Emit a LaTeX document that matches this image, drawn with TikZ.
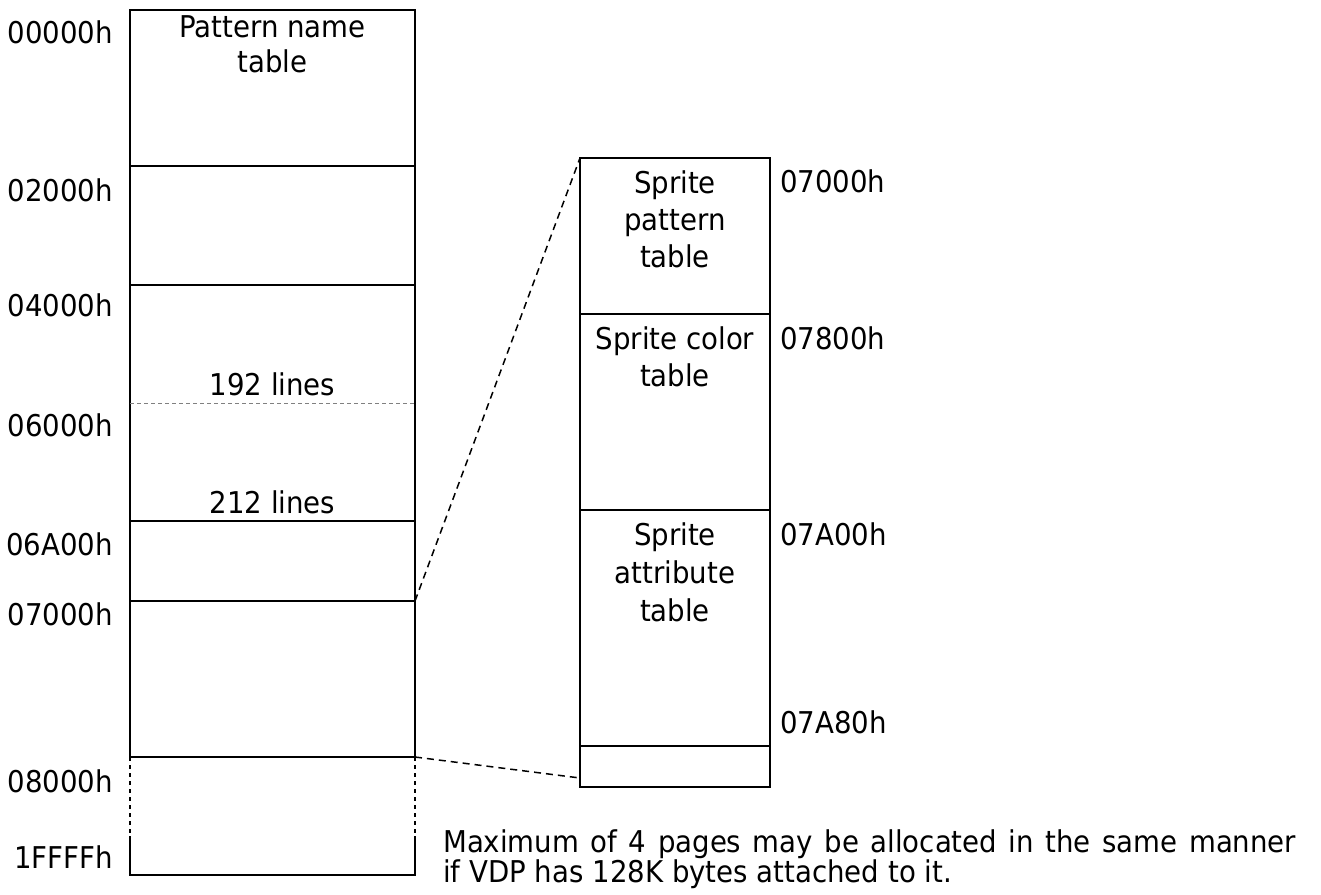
\documentclass[tikz,border=0pt]{standalone}
\usepackage{fontspec}
\setmainfont{DejaVu Sans}[FakeStretch=0.92]
\begin{document}
\begin{tikzpicture}[x=1pt,y=-1pt,
  seg/.style={draw,line width=2pt,inner sep=0pt,outer sep=0pt,minimum width=285pt},
  rseg/.style={draw,line width=2pt,inner sep=0pt,outer sep=0pt,minimum width=190pt},
  addr/.style={font=\fontsize{30}{36}\selectfont,inner sep=0pt},
  lbl/.style={font=\fontsize{30}{37}\selectfont,inner sep=0pt,align=center,anchor=base},
  zoomline/.style={line width=1.5pt,dash pattern=on 7pt off 5pt},
  dotline/.style={line width=2pt,dash pattern=on 4pt off 4pt},
  solidline/.style={line width=2pt},
  ]
\useasboundingbox (0,0) rectangle (1321,894);
% left column
\node[seg,minimum height=156pt] (pnt) at (272.5,88) {};
\node[seg,minimum height=119pt] (s2) at (272.5,225.5) {};
\node[seg,minimum height=236pt] (s3) at (272.5,403) {};
\node[seg,minimum height=80pt] (s4) at (272.5,561) {};
\node[seg,minimum height=156pt] (s5) at (272.5,679) {};
\draw[gray,line width=1pt,dash pattern=on 4pt off 3pt] (s3.west) -- (s3.east);
% bottom (pages beyond)
\coordinate (bl1) at (130,836);
\coordinate (br1) at (415,836);
\coordinate (bl2) at (130,875);
\coordinate (br2) at (415,875);
\draw[dotline] (s5.south west) -- (bl1);
\draw[dotline] (s5.south east) -- (br1);
\draw[solidline] (bl1) -- (bl2) -- (br2) -- (br1);
% right column
\node[rseg,minimum height=156pt] (r1) at (675,236) {};
\node[rseg,minimum height=196pt] (r2) at (675,412) {};
\node[rseg,minimum height=236pt] (r3) at (675,628) {};
\node[rseg,minimum height=41pt] (r4) at (675,766.5) {};
% zoom lines
\coordinate (zend) at (580,778);
\draw[zoomline] (s5.north east) -- (r1.north west);
\draw[zoomline] (s5.south east) -- (zend);
% left addresses
\node[addr,anchor=base east] (a0) at (113,43) {00000h};
\node[addr,anchor=base east] (a1) at (113,201) {02000h};
\node[addr,anchor=base east] (a2) at (113,316) {04000h};
\node[addr,anchor=base east] (a3) at (113,436) {06000h};
\node[addr,anchor=base east] (a4) at (113,555) {06A00h};
\node[addr,anchor=base east] (a5) at (113,625) {07000h};
\node[addr,anchor=base east] (a6) at (113,792) {08000h};
\node[addr,anchor=base east] (a7) at (113,868) {1FFFFh};
% right addresses
\node[addr,anchor=base west] (b0) at (780,192) {07000h};
\node[addr,anchor=base west] (b1) at (780,349) {07800h};
\node[addr,anchor=base west] (b2) at (780,545) {07A00h};
\node[addr,anchor=base west] (b3) at (780,733) {07A80h};
% box labels (base = baseline of last line)
\node[lbl,font=\fontsize{30}{35}\selectfont] (t0) at (272.5,72) {Pattern name\\table};
\node[lbl] (t1) at (272.5,395) {192 lines};
\node[lbl] (t2) at (272.5,513) {212 lines};
\node[lbl] (t3) at (675,267) {Sprite\\pattern\\table};
\node[lbl] (t4) at (675,386) {Sprite color\\table};
\node[lbl,font=\fontsize{30}{38}\selectfont] (t5) at (675,621) {Sprite\\attribute\\table};
% note
\node[font=\fontsize{30}{29}\selectfont,inner sep=0pt,anchor=base west,text width=853pt,align=justify] (note) at (443,852)
  {Maximum of 4 pages may be allocated in the same manner\linebreak if VDP has 128K bytes attached to it.};
\end{tikzpicture}
\end{document}
